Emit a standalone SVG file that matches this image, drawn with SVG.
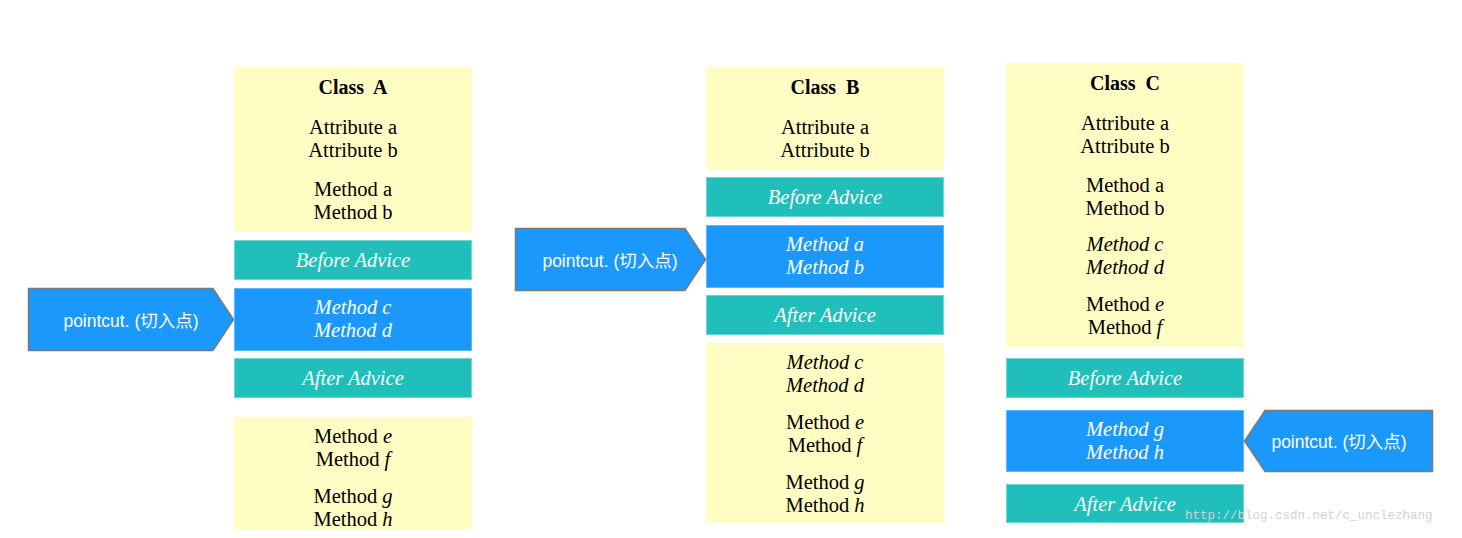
<svg xmlns="http://www.w3.org/2000/svg" width="1462" height="538" viewBox="0 0 1462 538">
<style>
.yel{fill:#fffcc4}
.teal{fill:#20bfbc;stroke:#6ed6d3;stroke-width:1}
.blue{fill:#1b98fc;stroke:#5cb7fd;stroke-width:1}
.pc{fill:#1b98fc;stroke:#7a7a7a;stroke-width:1.5}
.t{font-family:"Liberation Serif","Times New Roman",serif;font-size:20.5px;fill:#000;text-anchor:middle}
.b{font-weight:bold;font-size:20px}
.i{font-style:italic}
.w{font-family:"Liberation Serif","Times New Roman",serif;font-size:20.5px;font-style:italic;fill:#fff;text-anchor:middle}
.pt{font-family:"Liberation Sans","Noto Sans CJK SC",sans-serif;font-size:17.5px;fill:#fff;text-anchor:middle}
.wm{font-family:"Liberation Mono",monospace;font-size:12.5px;fill:#d2d2d2}
</style>
<rect width="1462" height="538" fill="#fff"/>

<g id="classA">
<rect class="yel" x="234" y="67" width="238" height="165"/>
<text class="t b" x="353" y="94" xml:space="preserve">Class  A</text>
<text class="t" x="353" y="134">Attribute a</text>
<text class="t" x="353" y="157">Attribute b</text>
<text class="t" x="353" y="196">Method a</text>
<text class="t" x="353" y="219">Method b</text>
</g>
<g id="beforeA">
<rect class="teal" x="234.5" y="240.5" width="237" height="39"/>
<text class="w" x="353" y="267">Before Advice</text>
</g>
<g id="methodCD_A">
<rect class="blue" x="234.5" y="288.5" width="237" height="62"/>
<text class="w" x="353" y="314">Method c</text>
<text class="w" x="353" y="337">Method d</text>
</g>
<g id="afterA">
<rect class="teal" x="234.5" y="358.5" width="237" height="39"/>
<text class="w" x="353" y="385">After Advice</text>
</g>
<g id="restA">
<rect class="yel" x="234" y="417" width="238" height="112"/>
<text class="t" x="353" y="443">Method <tspan class="i">e</tspan></text>
<text class="t" x="353" y="466">Method <tspan class="i">f</tspan></text>
<text class="t" x="353" y="503">Method <tspan class="i">g</tspan></text>
<text class="t" x="353" y="526">Method <tspan class="i">h</tspan></text>
</g>
<g id="pointcutA">
<polygon class="pc" points="28.5,288.5 213,288.5 233.5,319.5 213,350.5 28.5,350.5"/>
<text class="pt" x="131" y="327">pointcut. (切入点)</text>
</g>

<g id="classB">
<rect class="yel" x="706" y="67" width="238" height="102"/>
<text class="t b" x="825" y="94" xml:space="preserve">Class  B</text>
<text class="t" x="825" y="134">Attribute a</text>
<text class="t" x="825" y="157">Attribute b</text>
</g>
<g id="beforeB">
<rect class="teal" x="706.5" y="177.5" width="237" height="39"/>
<text class="w" x="825" y="204">Before Advice</text>
</g>
<g id="methodAB_B">
<rect class="blue" x="706.5" y="225.5" width="237" height="62"/>
<text class="w" x="825" y="251">Method a</text>
<text class="w" x="825" y="274">Method b</text>
</g>
<g id="afterB">
<rect class="teal" x="706.5" y="295.5" width="237" height="39"/>
<text class="w" x="825" y="322">After Advice</text>
</g>
<g id="restB">
<rect class="yel" x="706" y="343" width="238" height="180"/>
<text class="t i" x="825" y="369">Method c</text>
<text class="t i" x="825" y="392">Method d</text>
<text class="t" x="825" y="429">Method <tspan class="i">e</tspan></text>
<text class="t" x="825" y="452">Method <tspan class="i">f</tspan></text>
<text class="t" x="825" y="489">Method <tspan class="i">g</tspan></text>
<text class="t" x="825" y="512">Method <tspan class="i">h</tspan></text>
</g>
<g id="pointcutB">
<polygon class="pc" points="515.5,228.5 685,228.5 705.5,259.5 685,290.5 515.5,290.5"/>
<text class="pt" x="610" y="267">pointcut. (切入点)</text>
</g>

<g id="classC">
<rect class="yel" x="1006" y="63" width="238" height="284"/>
<text class="t b" x="1125" y="90" xml:space="preserve">Class  C</text>
<text class="t" x="1125" y="130">Attribute a</text>
<text class="t" x="1125" y="153">Attribute b</text>
<text class="t" x="1125" y="192">Method a</text>
<text class="t" x="1125" y="215">Method b</text>
<text class="t i" x="1125" y="251">Method c</text>
<text class="t i" x="1125" y="274">Method d</text>
<text class="t" x="1125" y="311">Method <tspan class="i">e</tspan></text>
<text class="t" x="1125" y="334">Method <tspan class="i">f</tspan></text>
</g>
<g id="beforeC">
<rect class="teal" x="1006.5" y="358.5" width="237" height="39"/>
<text class="w" x="1125" y="385">Before Advice</text>
</g>
<g id="methodGH_C">
<rect class="blue" x="1006.5" y="410.5" width="237" height="61"/>
<text class="w" x="1125" y="436">Method g</text>
<text class="w" x="1125" y="459">Method h</text>
</g>
<g id="afterC">
<rect class="teal" x="1006.5" y="484.5" width="237" height="38"/>
<text class="w" x="1125" y="511">After Advice</text>
</g>
<g id="pointcutC">
<polygon class="pc" points="1432.5,410.5 1265,410.5 1244.5,441 1265,471.5 1432.5,471.5"/>
<text class="pt" x="1339" y="448">pointcut. (切入点)</text>
</g>

<g id="connectors"></g>

<text class="wm" x="1185" y="519">http://blog.csdn.net/c_unclezhang</text>
</svg>
